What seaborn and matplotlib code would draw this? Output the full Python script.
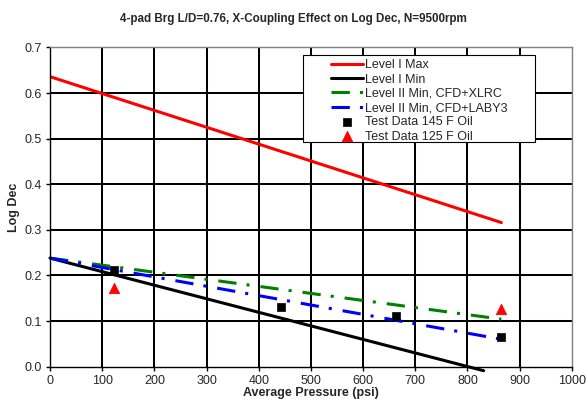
import matplotlib
matplotlib.use("Agg")
import matplotlib.pyplot as plt
from matplotlib.patches import Rectangle
import seaborn as sns
import numpy as np

sns.set_style("white")
plt.rcParams['font.family'] = ['Liberation Sans', 'DejaVu Sans']

# data
pressure_line = [0, 865]
lvl1_max = [0.636, 0.316]
lvl1_min_x = [0, 831]
lvl1_min = [0.238, -0.009]
lvl2_xlrc = [0.238, 0.104]
lvl2_laby3 = [0.238, 0.060]

test145_x = [123, 442, 664, 865]
test145_y = [0.213, 0.131, 0.111, 0.065]
test125_x = [122, 865]
test125_y = [0.172, 0.126]

x_ticks = np.arange(0, 1001, 100)
y_ticks = np.arange(0, 0.71, 0.1)

fig = plt.figure(figsize=(5.86, 4.11), dpi=100)
ax = fig.add_axes([0.0853, 0.108, 0.8905, 0.7765])

# grid (black, heavy like Excel)
for xv in x_ticks[1:-1]:
    ax.axvline(xv, color='black', lw=1.45, zorder=0)
for yv in y_ticks[1:]:
    ax.axhline(yv, color='black', lw=1.45, zorder=0)

dashdot = (0, (6, 3.3, 1, 3.6))
sns.lineplot(x=pressure_line, y=lvl1_max, color='#ff0000', lw=2.2, label='Level I Max', ax=ax)
sns.lineplot(x=lvl1_min_x, y=lvl1_min, color='black', lw=2.2, label='Level I Min', ax=ax, clip_on=False)
sns.lineplot(x=pressure_line, y=lvl2_xlrc, color='#008000', lw=2.2, label='Level II Min, CFD+XLRC',
             ax=ax, linestyle=dashdot)
sns.lineplot(x=pressure_line, y=lvl2_laby3, color='#0000ff', lw=2.2, label='Level II Min, CFD+LABY3',
             ax=ax, linestyle=dashdot)
sns.scatterplot(x=test145_x, y=test145_y, marker='s', color='black', s=38, edgecolor='black',
                label='Test Data 145 F Oil', ax=ax, zorder=5)
sns.scatterplot(x=test125_x, y=test125_y, marker='^', color='#ff0000', s=55, edgecolor='#ff0000',
                label='Test Data 125 F Oil', ax=ax, zorder=5)

ax.set_xlim(0, 1000)
ax.set_ylim(0, 0.7)
ax.set_xticks(x_ticks)
ax.set_yticks(y_ticks)
ax.set_xticklabels([str(v) for v in x_ticks], fontsize=9)
ax.set_yticklabels([f"{v:.1f}" for v in y_ticks], fontsize=9)
ax.tick_params(axis='both', direction='out', length=3, width=1, color='black', pad=3)
ax.tick_params(axis='x', bottom=True)
ax.tick_params(axis='y', left=True)

for side in ['left', 'bottom']:
    ax.spines[side].set_color('black')
    ax.spines[side].set_linewidth(1)
for side in ['top', 'right']:
    ax.spines[side].set_color('#808080')
    ax.spines[side].set_linewidth(1)

ax.set_xlabel('Average Pressure (psi)', fontsize=9, fontweight='bold', labelpad=0)
ax.set_ylabel('Log Dec', fontsize=9, fontweight='bold', labelpad=3)
fig.suptitle('4-pad Brg L/D=0.76, X-Coupling Effect on Log Dec, N=9500rpm',
             fontsize=8.4, fontweight='bold', y=0.968)

# legend box drawn separately (Excel style wide padding)
ax.add_patch(Rectangle((0.4847, 0.704), 0.4443, 0.2725, transform=ax.transAxes,
                       facecolor='white', edgecolor='black', lw=0.8, zorder=6, clip_on=False))
leg = ax.legend(loc='upper left', bbox_to_anchor=(0.538, 0.963), fontsize=9, frameon=False,
                borderpad=0, labelspacing=0.18, handlelength=2.56, handletextpad=0.18,
                borderaxespad=0)
leg.set_zorder(7)

fig.savefig('out.png', dpi=100)
